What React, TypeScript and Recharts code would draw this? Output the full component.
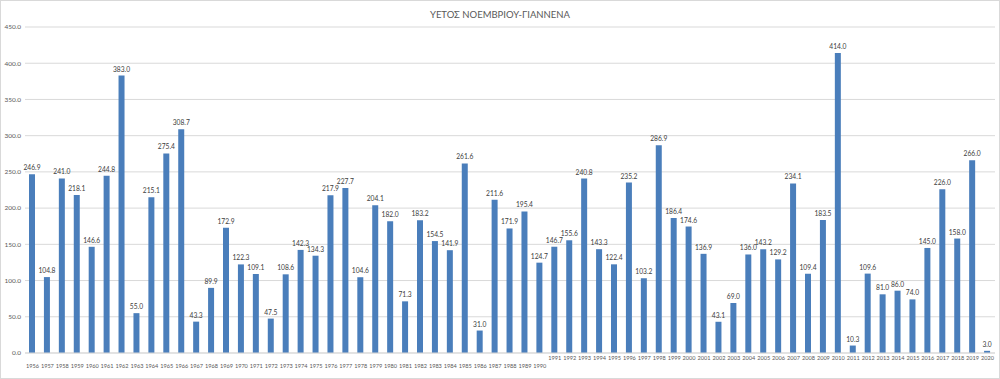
import React from 'react';
import { BarChart, Bar, XAxis, YAxis, CartesianGrid, LabelList } from 'recharts';

const years: string[] = [
  '1956','1957','1958','1959','1960','1961','1962','1963','1964','1965','1966','1967','1968','1969','1970','1971','1972','1973','1974','1975','1976','1977','1978','1979','1980','1981','1982','1983','1984','1985','1986','1987','1988','1989','1990','1991','1992','1993','1994','1995','1996','1997','1998','1999','2000','2001','2002','2003','2004','2005','2006','2007','2008','2009','2010','2011','2012','2013','2014','2015','2016','2017','2018','2019','2020'
];

const rainfall: number[] = [
  246.9, 104.8, 241.0, 218.1, 146.6, 244.8, 383.0, 55.0, 215.1, 275.4,
  308.7, 43.3, 89.9, 172.9, 122.3, 109.1, 47.5, 108.6, 142.3, 134.3,
  217.9, 227.7, 104.6, 204.1, 182.0, 71.3, 183.2, 154.5, 141.9, 261.6,
  31.0, 211.6, 171.9, 195.4, 124.7, 146.7, 155.6, 240.8, 143.3, 122.4,
  235.2, 103.2, 286.9, 186.4, 174.6, 136.9, 43.1, 69.0, 136.0, 143.2,
  129.2, 234.1, 109.4, 183.5, 414.0, 10.3, 109.6, 81.0, 86.0, 74.0,
  145.0, 226.0, 158.0, 266.0, 3.0
];

const yTicks: number[] = [0, 50, 100, 150, 200, 250, 300, 350, 400, 450];

const title = 'ΥΕΤΟΣ ΝΟΕΜΒΡΙΟΥ-ΓΙΑΝΝΕΝΑ';
const raisedFrom = 35; // labels from 1991 on sit on an upper row

const data = years.map((y, i) => ({ year: y, value: rainfall[i] }));

const FONT = 'Lato, "Open Sans", sans-serif';

const XTick = (props: any) => {
  const { x, y, payload, index } = props;
  const dy = index >= raisedFrom ? -1 : 7;
  return (
    <text x={x} y={y + dy} textAnchor="middle" fontSize={5.6} fill="#595959" fontFamily={FONT}>
      {payload.value}
    </text>
  );
};

export default function App() {
  return (
    <div
      style={{
        position: 'absolute',
        left: 0,
        top: 0,
        width: 1000,
        height: 379,
        boxSizing: 'border-box',
        border: '1px solid #d9d9d9',
        background: '#fff',
        fontFamily: FONT,
      }}
    >
      <div
        style={{
          position: 'absolute',
          left: 0,
          top: 8,
          width: 998,
          textAlign: 'center',
          fontSize: 9.5,
          color: '#595959',
          fontFamily: FONT,
        }}
      >
        {title}
      </div>
      <BarChart
        width={998}
        height={377}
        data={data}
        margin={{ top: 26, right: 4, bottom: 0, left: 0 }}
        barCategoryGap={0}
      >
        <CartesianGrid vertical={false} stroke="#d9d9d9" />
        <XAxis
          dataKey="year"
          interval={0}
          height={25}
          tickLine={false}
          axisLine={{ stroke: '#d9d9d9' }}
          tick={<XTick />}
        />
        <YAxis
          width={24}
          domain={[0, 450]}
          ticks={yTicks}
          tickLine={false}
          axisLine={false}
          tickSize={0}
          tickMargin={4}
          tick={{ fontSize: 6.5, fill: '#595959', fontFamily: FONT }}
          tickFormatter={(v: number) => v.toFixed(1)}
        />
        <Bar dataKey="value" fill="#4a7ebb" barSize={6} isAnimationActive={false}>
          <LabelList
            dataKey="value"
            position="top"
            offset={4}
            formatter={(v: any) => Number(v).toFixed(1)}
            style={{ fontSize: 6.7, fill: '#404040', fontFamily: FONT }}
          />
        </Bar>
      </BarChart>
    </div>
  );
}
